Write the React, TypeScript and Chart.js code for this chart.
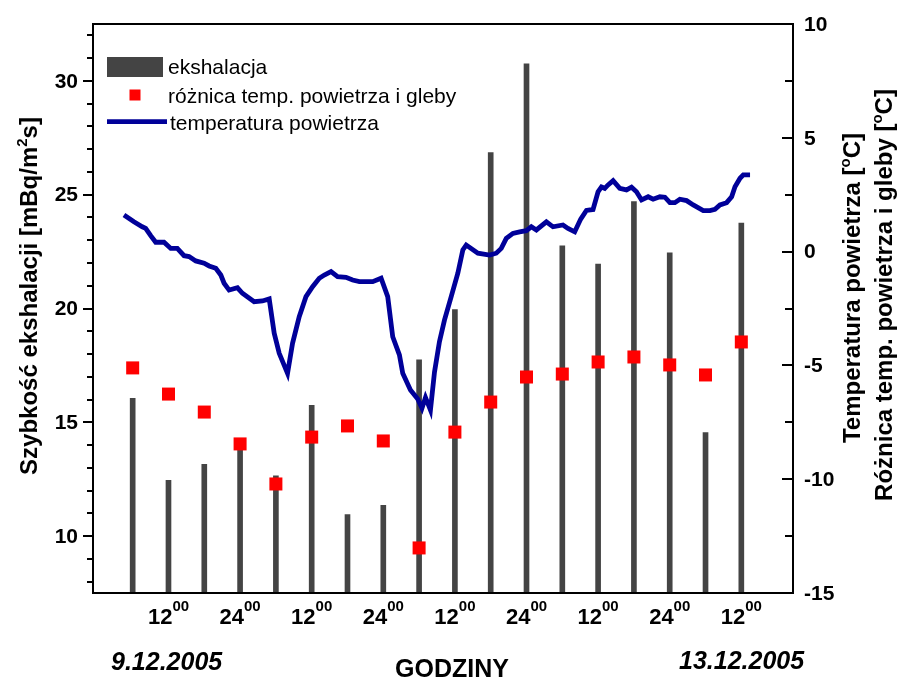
import React, { useEffect, useRef } from 'react';
import { Chart, registerables } from 'chart.js';

Chart.register(...registerables);

// ---- data ----
const barHours = [6, 12, 18, 24, 30, 36, 42, 48, 54, 60, 66, 72, 78, 84, 90, 96, 102, 108];
const ekshalacja = [16.05, 12.45, 13.15, 13.9, 12.65, 15.75, 10.95, 11.35, 17.75, 19.95, 26.85, 30.75, 22.75, 21.95, 24.7, 22.45, 14.55, 23.75];
const roznica = [-5.11, -6.26, -7.05, -8.45, -10.21, -8.15, -7.66, -8.32, -13.02, -7.93, -6.61, -5.51, -5.38, -4.85, -4.63, -4.98, -5.42, -3.97];

const tempHours = [4.54, 6.21, 7.61, 8.18, 9.02, 9.86, 11.25, 12.38, 13.48, 14.61, 15.45, 16.57, 17.97, 18.81, 19.93, 20.77, 21.32, 22.16, 23.56, 24.39, 26.36, 27.75, 28.88, 29.72, 30.56, 31.95, 32.79, 33.91, 35.04, 36.15, 37.27, 38.11, 39.24, 40.34, 41.75, 42.86, 43.99, 46.22, 47.63, 48.74, 49.58, 50.70, 51.26, 52.55, 53.77, 54.48, 55.07, 55.90, 56.58, 57.41, 58.25, 59.38, 60.49, 61.33, 61.90, 63.85, 65.81, 66.93, 67.77, 68.61, 69.72, 70.84, 71.97, 72.81, 73.65, 75.33, 76.44, 78.11, 78.95, 80.08, 81.08, 82.04, 83.15, 83.99, 84.56, 85.11, 85.67, 86.51, 87.63, 88.76, 89.60, 90.43, 91.28, 92.38, 93.22, 94.35, 95.19, 96.03, 96.86, 97.70, 98.83, 99.94, 101.62, 102.74, 103.58, 104.42, 105.54, 106.38, 106.94, 107.78, 108.33, 109.46];
const tempValues = [1.61, 1.31, 1.09, 1.02, 0.70, 0.41, 0.41, 0.14, 0.14, -0.18, -0.22, -0.41, -0.51, -0.63, -0.73, -1.03, -1.39, -1.69, -1.59, -1.83, -2.20, -2.17, -2.08, -3.59, -4.47, -5.35, -4.03, -2.86, -1.98, -1.54, -1.17, -1.03, -0.88, -1.10, -1.13, -1.25, -1.32, -1.32, -1.17, -1.98, -3.74, -4.54, -5.35, -6.08, -6.48, -6.88, -6.41, -6.96, -5.29, -3.96, -3.01, -1.98, -0.95, 0.07, 0.29, -0.07, -0.15, -0.07, 0.14, 0.58, 0.80, 0.87, 0.92, 1.09, 0.95, 1.31, 1.09, 1.17, 1.02, 0.87, 1.43, 1.81, 1.85, 2.63, 2.84, 2.78, 2.93, 3.12, 2.78, 2.71, 2.83, 2.63, 2.27, 2.41, 2.30, 2.41, 2.39, 2.15, 2.15, 2.30, 2.24, 2.05, 1.80, 1.80, 1.86, 2.05, 2.15, 2.41, 2.85, 3.22, 3.37, 3.37];

const leftTicks = [10, 15, 20, 25, 30];
const rightTicks = [-15, -10, -5, 0, 5, 10];
const xTickHours = [12, 24, 36, 48, 60, 72, 84, 96, 108];
const xTickLabels = ['12', '24', '12', '24', '12', '24', '12', '24', '12'];

const seriesLabels = ['ekshalacja', 'różnica temp. powietrza i gleby', 'temperatura powietrza'];

const FONT = '"Liberation Sans", Arial, Helvetica, sans-serif';
const BAR_COLOR = '#444444';
const SQ_COLOR = '#ff0000';
const LINE_COLOR = '#000099';

type Part = { t: string; font: string; dy: number };

function partsWidth(ctx: CanvasRenderingContext2D, parts: Part[]) {
  let w = 0;
  for (const p of parts) {
    ctx.font = p.font;
    w += ctx.measureText(p.t).width;
  }
  return w;
}

function drawParts(ctx: CanvasRenderingContext2D, parts: Part[], x: number, y: number, align: 'left' | 'center') {
  const w = partsWidth(ctx, parts);
  let cx = align === 'center' ? x - w / 2 : x;
  ctx.textAlign = 'left';
  ctx.textBaseline = 'alphabetic';
  for (const p of parts) {
    ctx.font = p.font;
    ctx.fillText(p.t, cx, y + p.dy);
    cx += ctx.measureText(p.t).width;
  }
}

function drawRotated(ctx: CanvasRenderingContext2D, parts: Part[], cx: number, cy: number, baselineOffset: number) {
  ctx.save();
  ctx.translate(cx, cy);
  ctx.rotate(-Math.PI / 2);
  drawParts(ctx, parts, 0, baselineOffset, 'center');
  ctx.restore();
}

const decorPlugin = {
  id: 'decor',
  afterDatasetsDraw(chart: any) {
    const { ctx, chartArea: a, scales } = chart;
    const xs = scales.x;
    const yL = scales.y;
    const yR = scales.y2;
    ctx.save();
    ctx.strokeStyle = '#000';
    ctx.fillStyle = '#000';
    ctx.lineWidth = 2;

    // frame
    ctx.strokeRect(a.left, a.top, a.right - a.left, a.bottom - a.top);

    // left ticks (outward)
    ctx.beginPath();
    for (let v = Math.ceil(yL.min); v <= yL.max; v++) {
      const py = Math.round(yL.getPixelForValue(v));
      const len = v % 5 === 0 ? 10 : 6;
      ctx.moveTo(a.left - len, py);
      ctx.lineTo(a.left, py);
    }
    ctx.stroke();

    // right ticks (inward)
    ctx.beginPath();
    for (let v = yR.min; v <= yR.max + 1e-6; v += 2.5) {
      const py = Math.round(yR.getPixelForValue(v));
      const len = Math.abs(v % 5) < 1e-6 ? 11 : 8;
      ctx.moveTo(a.right - len, py);
      ctx.lineTo(a.right, py);
    }
    ctx.stroke();

    // left tick labels
    ctx.font = `bold 21px ${FONT}`;
    ctx.textAlign = 'right';
    ctx.textBaseline = 'middle';
    for (const v of leftTicks) {
      ctx.fillText(String(v), a.left - 15, yL.getPixelForValue(v) + 1);
    }
    // right tick labels
    ctx.textAlign = 'left';
    for (const v of rightTicks) {
      ctx.fillText(String(v), a.right + 11, yR.getPixelForValue(v) + 1);
    }

    // x tick labels with superscript 00
    xTickHours.forEach((h, i) => {
      const px = xs.getPixelForValue(h);
      drawParts(
        ctx,
        [
          { t: xTickLabels[i], font: `bold 22px ${FONT}`, dy: 0 },
          { t: '00', font: `bold 15px ${FONT}`, dy: -13 },
        ],
        px,
        624,
        'center'
      );
    });

    // bottom texts
    ctx.font = `italic bold 25px ${FONT}`;
    ctx.textAlign = 'left';
    ctx.textBaseline = 'alphabetic';
    ctx.fillText('9.12.2005', 111, 670);
    ctx.fillText('13.12.2005', 679, 669);
    ctx.font = `bold 25px ${FONT}`;
    ctx.fillText('GODZINY', 395, 677);

    // axis titles
    const tf = `bold 24px ${FONT}`;
    const sf = `bold 15px ${FONT}`;
    drawRotated(
      ctx,
      [
        { t: 'Szybkość ekshalacji [mBq/m', font: tf, dy: 0 },
        { t: '2', font: sf, dy: -10 },
        { t: 's]', font: tf, dy: 0 },
      ],
      28,
      296,
      8.5
    );
    drawRotated(
      ctx,
      [
        { t: 'Temperatura powietrza [', font: tf, dy: 0 },
        { t: 'o', font: sf, dy: -10 },
        { t: 'C]', font: tf, dy: 0 },
      ],
      851,
      288,
      8.5
    );
    drawRotated(
      ctx,
      [
        { t: 'Różnica temp. powietrza i gleby [', font: tf, dy: 0 },
        { t: 'o', font: sf, dy: -10 },
        { t: 'C]', font: tf, dy: 0 },
      ],
      883,
      295,
      8.5
    );

    // legend
    ctx.fillStyle = BAR_COLOR;
    ctx.fillRect(107, 57, 56, 20);
    ctx.fillStyle = SQ_COLOR;
    ctx.fillRect(129.5, 89.5, 11, 11);
    ctx.strokeStyle = LINE_COLOR;
    ctx.lineWidth = 4.7;
    ctx.beginPath();
    ctx.moveTo(107, 121.7);
    ctx.lineTo(167, 121.7);
    ctx.stroke();
    ctx.fillStyle = '#000';
    ctx.font = `21px ${FONT}`;
    ctx.textAlign = 'left';
    ctx.textBaseline = 'alphabetic';
    ctx.fillText(seriesLabels[0], 168, 74);
    ctx.fillText(seriesLabels[1], 168, 102.5);
    ctx.fillText(seriesLabels[2], 170, 130);

    ctx.restore();
  },
};

export default function App() {
  const ref = useRef<HTMLCanvasElement | null>(null);

  useEffect(() => {
    if (!ref.current) return;
    const chart = new Chart(ref.current, {
      type: 'bar',
      data: {
        datasets: [
          {
            type: 'scatter',
            label: seriesLabels[1],
            data: barHours.map((h, i) => ({ x: h, y: roznica[i] })),
            yAxisID: 'y2',
            xAxisID: 'x',
            pointStyle: 'rect',
            pointRadius: 9.2,
            pointBackgroundColor: SQ_COLOR,
            backgroundColor: SQ_COLOR,
            pointBorderWidth: 0,
            borderWidth: 0,
            order: 0,
          } as any,
          {
            type: 'line',
            label: seriesLabels[2],
            data: tempHours.map((h, i) => ({ x: h, y: tempValues[i] })),
            yAxisID: 'y2',
            xAxisID: 'x',
            borderColor: LINE_COLOR,
            borderWidth: 4.8,
            pointRadius: 0,
            tension: 0,
            fill: false,
            order: 1,
          } as any,
          {
            type: 'bar',
            label: seriesLabels[0],
            data: barHours.map((h, i) => ({ x: h, y: ekshalacja[i] })),
            yAxisID: 'y',
            xAxisID: 'x',
            backgroundColor: BAR_COLOR,
            borderWidth: 0,
            barThickness: 5,
            order: 2,
          } as any,
        ],
      },
      options: {
        animation: false,
        responsive: false,
        devicePixelRatio: 1,
        layout: { padding: { left: 93, right: 111, top: 24, bottom: 84 } },
        plugins: {
          legend: { display: false },
          tooltip: { enabled: false },
        },
        scales: {
          x: { type: 'linear', min: -0.65, max: 116.66, offset: false, display: false },
          y: { type: 'linear', min: 7.5, max: 32.5, display: false },
          y2: { type: 'linear', min: -15, max: 10, display: false, position: 'right' },
        },
      } as any,
      plugins: [decorPlugin],
    });
    return () => chart.destroy();
  }, []);

  return (
    <div style={{ position: 'absolute', left: 0, top: 0, width: 904, height: 677, background: '#fff' }}>
      <canvas ref={ref} width={904} height={677} style={{ display: 'block', width: 904, height: 677 }} />
    </div>
  );
}
